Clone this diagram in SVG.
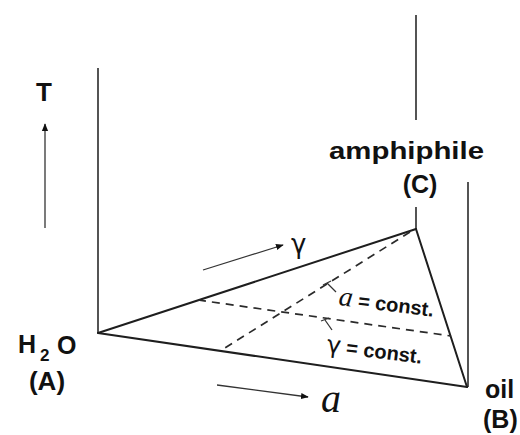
<svg xmlns="http://www.w3.org/2000/svg" width="520" height="435" viewBox="0 0 520 435">
<defs>
<style>
.ln{stroke:#1e1e1e;stroke-width:2;fill:none;stroke-linecap:round}
.vl{stroke:#2a2a2a;stroke-width:1.6;fill:none}
.ds{stroke:#2a2a2a;stroke-width:1.7;fill:none;stroke-dasharray:8 6}
.ar{stroke:#333;stroke-width:1.3;fill:none}
.lb{font-family:"Liberation Sans",Arial,sans-serif;font-weight:bold;fill:#111}
.it{font-family:"Liberation Serif","Times New Roman",serif;font-style:italic;font-weight:normal;fill:#111}
.gm{font-family:"DejaVu Sans","Liberation Sans",sans-serif;font-weight:normal;fill:#111}
</style>
<marker id="ah" viewBox="0 0 10 10" refX="9" refY="5" markerWidth="6" markerHeight="6" orient="auto">
<path d="M0,1 L10,5 L0,9 Z" fill="#111"/>
</marker>
</defs>
<rect width="520" height="435" fill="#fff"/>
<g id="connectors">
<line class="vl" x1="98" y1="68" x2="98" y2="333"/>
<line class="vl" x1="416" y1="15" x2="416" y2="120"/>
<line class="vl" x1="416" y1="207" x2="416" y2="229"/>
<line class="vl" x1="468" y1="182" x2="468" y2="387"/>
<line class="ln" x1="98" y1="333" x2="416" y2="229"/>
<line class="ln" x1="416" y1="229" x2="467" y2="387"/>
<line class="ln" x1="98" y1="333" x2="467" y2="387"/>
<line class="ds" x1="410" y1="232" x2="220" y2="351"/>
<line class="ds" x1="198" y1="300" x2="451" y2="336"/>
<line class="ar" x1="327" y1="283" x2="336" y2="292"/>
<line class="ar" x1="323" y1="285" x2="331" y2="281"/>
<line class="ar" x1="325" y1="320" x2="332" y2="330"/>
<line class="ar" x1="321" y1="321" x2="329" y2="318"/>
<line class="ar" x1="45" y1="228" x2="45" y2="124" marker-end="url(#ah)"/>
<line class="ar" x1="203" y1="270" x2="283" y2="245" marker-end="url(#ah)"/>
<line class="ar" x1="217" y1="385" x2="308" y2="397" marker-end="url(#ah)"/>
</g>
<g id="axisT">
<text class="lb" x="44" y="101" font-size="26" text-anchor="middle">T</text>
</g>
<g id="nodeA">
<text class="lb" x="18" y="353" font-size="25">H</text>
<text class="lb" x="40" y="361" font-size="17">2</text>
<text class="lb" x="57" y="354" font-size="25">O</text>
<text class="lb" x="47" y="390" font-size="26" text-anchor="middle">(A)</text>
</g>
<g id="nodeC">
<text class="lb" x="329" y="159" font-size="24" textLength="155" lengthAdjust="spacingAndGlyphs">amphiphile</text>
<text class="lb" x="420" y="193" font-size="25" text-anchor="middle">(C)</text>
</g>
<g id="nodeB">
<text class="lb" x="485" y="398" font-size="25">oil</text>
<text class="lb" x="483" y="428" font-size="25">(B)</text>
</g>
<g id="labels">
<text class="gm" x="291" y="253" font-size="26">γ</text>
<text class="it" x="321" y="412" font-size="40">a</text>
<g transform="rotate(7 338 305)">
<text class="lb" x="338" y="305" font-size="20"><tspan class="it" font-size="28">a</tspan> = const.</text>
</g>
<g transform="rotate(7 327 352)">
<text class="lb" x="326" y="352" font-size="20"><tspan class="gm" font-size="24">γ</tspan> = const.</text>
</g>
</g>
</svg>
